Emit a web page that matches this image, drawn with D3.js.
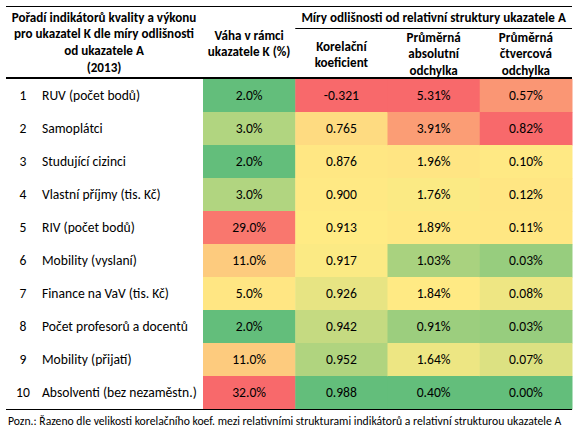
<!DOCTYPE html>
<html><head><meta charset="utf-8">
<script src="https://cdn.jsdelivr.net/npm/d3@7"></script>
<style>
html,body{margin:0;padding:0;background:#fff;}
svg{display:block;font-family:Carlito, Calibri, Lato, sans-serif;}
</style></head>
<body><svg id="c" width="579" height="437"></svg>
<script>
const ranks = [1,2,3,4,5,6,7,8,9,10];
const labels = ["RUV (počet bodů)","Samoplátci","Studující cizinci","Vlastní příjmy (tis. Kč)","RIV (počet bodů)","Mobility (vyslaní)","Finance na VaV (tis. Kč)","Počet profesorů a docentů","Mobility (přijatí)","Absolventi (bez nezaměstn.)"];
const weights = [2.0,3.0,2.0,3.0,29.0,11.0,5.0,2.0,11.0,32.0];
const correl = [-0.321,0.765,0.876,0.900,0.913,0.917,0.926,0.942,0.952,0.988];
const absDev = [5.31,3.91,1.96,1.76,1.89,1.03,1.84,0.91,1.64,0.40];
const sqDev = [0.57,0.82,0.10,0.12,0.11,0.03,0.08,0.03,0.07,0.00];
const headLeft = ["Pořadí indikátorů kvality a výkonu","pro ukazatel K dle míry odlišnosti","od ukazatele A","(2013)"];
const headWeight = ["Váha v rámci","ukazatele K (%)"];
const headGroup = "Míry odlišnosti od relativní struktury ukazatele A";
const headCorrel = ["Korelační","koeficient"];
const headAbs = ["Průměrná","absolutní","odchylka"];
const headSq = ["Průměrná","čtvercová","odchylka"];
const footnote = "Pozn.: Řazeno dle velikosti korelačního koef. mezi relativními strukturami indikátorů a relativní strukturou ukazatele A";

const GREEN="#63BE7B", YELLOW="#FFEB84", RED="#F8696B";
const loc = d3.formatLocale({decimal:".",thousands:",",grouping:[3],currency:["",""],minus:"-"});
const f1 = loc.format(".1f"), f2 = loc.format(".2f"), f3 = loc.format(".3f");
const BODY=13.6, HEAD=13.1;

const cols = [
  {key:"w", vals:weights, fmt:v=>f1(v)+"%", hi:"bad"},
  {key:"c", vals:correl, fmt:v=>f3(v), hi:"good"},
  {key:"a", vals:absDev, fmt:v=>f2(v)+"%", hi:"bad"},
  {key:"s", vals:sqDev, fmt:v=>f2(v)+"%", hi:"bad"}
];
cols.forEach(c=>{
  const dom=[d3.min(c.vals),d3.median(c.vals),d3.max(c.vals)];
  c.color=d3.scaleLinear().domain(dom).range(c.hi==="bad"?[GREEN,YELLOW,RED]:[RED,YELLOW,GREEN]).interpolate(d3.interpolateRgb);
});

const svg=d3.select("#c");
const x=d3.scaleBand().domain(cols.map(c=>c.key)).range([203,572]);
const y=d3.scaleBand().domain(ranks).range([79,409]);

cols.forEach(c=>{
  svg.append("g").selectAll("rect").data(c.vals).join("rect")
    .attr("x",x(c.key)).attr("y",(d,i)=>y(ranks[i]))
    .attr("width",x.bandwidth()+0.5).attr("height",y.bandwidth()+0.5)
    .attr("fill",d=>c.color(d));
  svg.append("g").selectAll("text").data(c.vals).join("text")
    .attr("x",x(c.key)+x.bandwidth()/2).attr("y",(d,i)=>y(ranks[i])+y.bandwidth()/2+4.8)
    .attr("text-anchor","middle").attr("font-size",BODY).attr("fill","#000")
    .text(d=>c.fmt(d));
});
svg.append("g").selectAll("text").data(ranks).join("text")
  .attr("x",23).attr("y",d=>y(d)+y.bandwidth()/2+4.8).attr("text-anchor","middle")
  .attr("font-size",BODY).text(d=>d);
svg.append("g").selectAll("text").data(labels).join("text")
  .attr("x",42).attr("y",(d,i)=>y(ranks[i])+y.bandwidth()/2+4.8)
  .attr("font-size",BODY).text(d=>d);

function lines(arr,cx,y0,dy){
  svg.append("g").selectAll("text").data(arr).join("text")
    .attr("x",cx).attr("y",(d,i)=>y0+i*dy).attr("text-anchor","middle")
    .attr("font-size",HEAD).attr("font-weight","bold").text(d=>d);
}
lines(headLeft,104,21.5,16.7);
lines(headWeight,x("w")+x.bandwidth()/2,39.5,16.7);
lines(headCorrel,x("c")+x.bandwidth()/2,50.5,16.7);
lines(headAbs,x("a")+x.bandwidth()/2,41.5,16.7);
lines(headSq,x("s")+x.bandwidth()/2,41.5,16.7);
svg.append("text").attr("x",(x("c")+572)/2).attr("y",21.5).attr("text-anchor","middle")
  .attr("font-size",HEAD).attr("font-weight","bold").text(headGroup);

svg.append("line").attr("x1",6).attr("x2",572).attr("y1",6.5).attr("y2",6.5).attr("stroke","#000");
svg.append("line").attr("x1",x("c")).attr("x2",572).attr("y1",28.5).attr("y2",28.5).attr("stroke","#000");
svg.append("line").attr("x1",6).attr("x2",572).attr("y1",78).attr("y2",78).attr("stroke","#000").attr("stroke-width",2);
svg.append("line").attr("x1",6).attr("x2",572).attr("y1",409.5).attr("y2",409.5).attr("stroke","#000");

svg.append("text").attr("x",8).attr("y",425).attr("font-size",11.7).text(footnote);
</script></body></html>
